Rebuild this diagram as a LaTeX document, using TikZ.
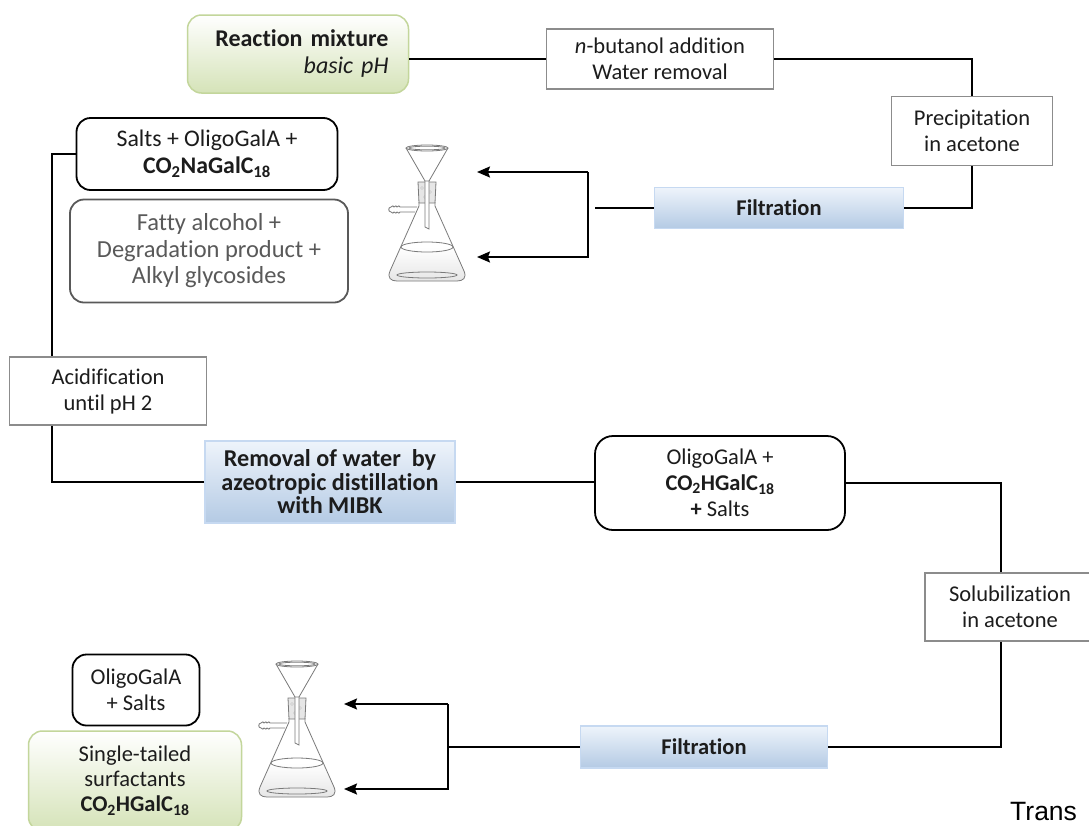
\documentclass[tikz,border=0pt]{standalone}
\usepackage{fontspec}
\setmainfont[Ligatures=NoCommon]{Carlito}
\newfontfamily\captionfont{Liberation Sans}
\usetikzlibrary{positioning,arrows.meta,calc}
\definecolor{txt}{HTML}{1C1C1C}
\definecolor{boxline}{HTML}{8C8C8C}
\definecolor{side}{HTML}{595959}
\definecolor{leafbg}{HTML}{D5E3B8}
\definecolor{leafline}{HTML}{C3D69B}
\definecolor{skybg}{HTML}{B4CAE4}
\definecolor{skyline}{HTML}{C6D9F1}
\definecolor{glass}{HTML}{7A7A7A}
\definecolor{liquid}{HTML}{E6E6E6}

\tikzset{
  stepbox/.style={draw=boxline,line width=1.5pt,fill=white,align=center,text=txt,inner sep=0pt},
  mixbox/.style={draw=black,line width=1.8pt,rounded corners=14pt,fill=white,align=center,text=txt,inner sep=0pt},
  wastebox/.style={mixbox,draw=side,text=side},
  leafbox/.style={draw=leafline,line width=1.5pt,rounded corners=14pt,top color=white,bottom color=leafbg,align=center,text=txt,inner sep=0pt},
  skybox/.style={draw=skyline,line width=1.2pt,top color=white!70!skyline,bottom color=skybg,align=center,text=txt,inner sep=0pt,font=\fontsize{22.5}{25}\selectfont\bfseries},
  flow/.style={draw=black,line width=1.8pt},
  arr/.style={flow,-{Stealth[length=13pt,width=11pt,inset=2pt]}}
}

% vacuum flask with funnel, origin at the funnel rim
\newcommand{\filterflask}[1]{%
\begin{scope}[shift={#1},draw=glass,line width=0.8pt]
  \shade[top color=white,bottom color=liquid] (-26,99) -- (-37,123) .. controls (-40,130) and (-36,133) .. (-30,133) -- (30,133) .. controls (36,133) and (40,130) .. (37,123) -- (26,99) -- cycle;
  \draw (0,99) ellipse (26 and 5);
  \draw (-8,54) -- (-8,58) -- (-37,123) .. controls (-40,130) and (-36,133) .. (-30,133) -- (30,133) .. controls (36,133) and (40,130) .. (37,123) -- (8,58) -- (8,54);
  \draw (0,127) ellipse (30 and 3);
  % side arm with ribbed hose end
  \draw[fill=white] (-10,59) -- (-27,59) .. controls (-28,57.5) .. (-30,59) .. controls (-31,57.5) .. (-33,59) .. controls (-34,57.5) .. (-36,59)
    .. controls (-39,59) and (-39,64) .. (-36,64) .. controls (-34,65.5) .. (-33,64) .. controls (-31,65.5) .. (-30,64) .. controls (-28,65.5) .. (-27,64) -- (-12,64);
  % stopper and stem
  \draw[fill=liquid] (-9,34) -- (9,34) -- (8,55) -- (-8,55) -- cycle;
  \draw[white!60!glass,line width=0.5pt] (-5,40) circle (1.5) (3,44) circle (1.5) (-2,49) circle (1.5);
  \draw[fill=white] (-2,33) -- (-2,79) -- (2,81) -- (2,33);
  % funnel
  \draw[fill=white] (-21,0) -- (-2,33) -- (2,33) -- (21,0);
  \draw (0,0) ellipse (21 and 3);
  \draw (0,0) ellipse (18 and 1.8);
\end{scope}}

\begin{document}
\begin{tikzpicture}[x=1pt,y=-1pt,font=\fontsize{22.5}{26}\selectfont]
\fill[white] (0,0) rectangle (1089,825);
\useasboundingbox (0,0) rectangle (1089,825);

% top row
\node[leafbox,minimum width=221pt,minimum height=78pt,text width=181pt,align=right,
  font=\fontsize{24}{27}\selectfont] (react) at (298,54) {\textbf{Reaction mixture}\\\textit{basic pH}};
\node[stepbox,minimum width=227pt,minimum height=60pt] (butanol) at (660,59) {\textit{n}-butanol addition\\Water removal};
\node[stepbox,minimum width=161pt,minimum height=69pt] (precip) at (972,131) {Precipitation\\in acetone};
\node[skybox,minimum width=249pt,minimum height=41pt] (filtA) at (779,208) {Filtration};

% first filtration products
\node[mixbox,minimum width=261pt,minimum height=72pt,font=\fontsize{23.8}{27}\selectfont] (salts) at (207,154) {Salts + OligoGalA +\\\textbf{CO\textsubscript{2}NaGalC\textsubscript{18}}};
\node[wastebox,minimum width=278pt,minimum height=103pt,font=\fontsize{24.5}{26.5}\selectfont] (fatty) at (209,251) {Fatty alcohol +\\Degradation product +\\Alkyl glycosides};

% acid work-up
\node[stepbox,minimum width=197pt,minimum height=68pt] (acid) at (108,391) {Acidification\\until pH 2};
\node[skybox,minimum width=250pt,minimum height=82pt,font=\fontsize{24.2}{23.5}\selectfont\bfseries] (removal) at (330,482) {Removal of water\ \ by\\azeotropic distillation\\with MIBK};
\node[mixbox,rounded corners=18pt,minimum width=250pt,minimum height=94pt] (mixH) at (720,483) {OligoGalA +\\\textbf{CO\textsubscript{2}HGalC\textsubscript{18}}\\\textbf{+} Salts};
\node[stepbox,minimum width=170pt,minimum height=68pt] (solub) at (1010,607) {Solubilization\\in acetone};
\node[skybox,minimum width=247pt,minimum height=42pt] (filtB) at (704,747) {Filtration};

% second filtration products
\node[mixbox,minimum width=127pt,minimum height=71pt] (oligo) at (136,690) {OligoGalA\\+ Salts};
\node[leafbox,minimum width=213pt,minimum height=100pt,font=\fontsize{22.5}{25}\selectfont] (single) at (135,781) {Single-tailed\\surfactants\\\textbf{CO\textsubscript{2}HGalC\textsubscript{18}}};

\node[anchor=base west,inner sep=0pt,text=black,font=\captionfont\fontsize{26.5}{30}\selectfont] (trans) at (1010,820) {Trans};

% flasks
\filterflask{(427,148)}
\filterflask{(297,664)}

% helper points
\coordinate (spineL) at (52,0);
\coordinate (spineR) at (1001,0);
\coordinate (stubA) at (595,208);
\coordinate (forkA) at (588,172);
\coordinate (tipA1) at (477,172);
\coordinate (tipA2) at (477,257);
\coordinate (forkB) at (448,704);
\coordinate (tipB1) at (344,704);
\coordinate (tipB2) at (344,789);

% connectors
\draw[flow] (butanol.west) -- (butanol.west -| react.east);
\draw[flow] (butanol.east) -| (precip.north);
\draw[flow] (precip.south) |- (filtA.east);
\draw[flow] (filtA.west) -- (stubA);
\draw[arr] (forkA) -- (tipA1);
\draw[arr] (forkA) |- (tipA2);
\draw[flow] (salts.west) -| (spineL |- acid.north);
\draw[flow] (spineL |- acid.south) |- (removal.west);
\draw[flow] (removal.east) -- (removal.east -| mixH.west);
\draw[flow] (mixH.east) -| (spineR |- solub.north);
\draw[flow] (spineR |- solub.south) |- (filtB.east);
\draw[flow] (filtB.west) -| (forkB);
\draw[arr] (forkB) -- (tipB1);
\draw[arr] (forkB) |- (tipB2);
\end{tikzpicture}
\end{document}
